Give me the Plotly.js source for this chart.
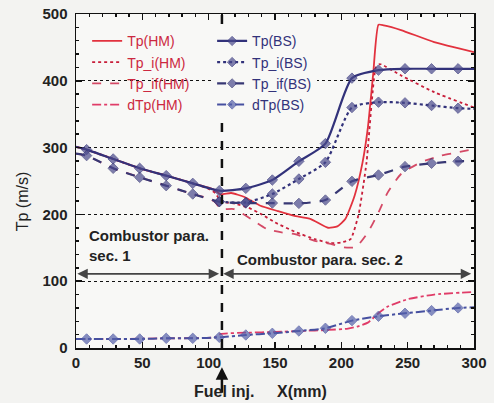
<!DOCTYPE html>
<html>
<head>
<meta charset="utf-8">
<script src="https://cdn.plot.ly/plotly-3.0.1.min.js"></script>
<style>html,body{margin:0;padding:0;background:#f3f3f1;}</style>
</head>
<body>
<div id="chart" style="width:494px;height:403px;"></div>
<script>
// ---- BS series (markers every 20 mm) ----
const xBS    = [0, 8, 28, 48, 68, 88, 108, 128, 148, 168, 188, 208, 228, 248, 268, 288, 300];
const tpBS   = [301, 297, 283, 269, 258, 246.5, 235.5, 239, 251.5, 279.5, 306, 404, 416, 418, 418, 418, 418];
const tpifBS = [291, 288, 269, 255.5, 243, 230.5, 219, 217, 217, 216.5, 221.5, 249.5, 259, 271.5, 276.5, 279.5, 280];
const dtpBS  = [13.5, 13.5, 13.5, 13.5, 14.5, 14.5, 16, 19.5, 22, 25.5, 29.5, 41, 47.5, 52, 56, 60, 61];
const xTpiBS = [108, 128, 148, 168, 188, 208, 228, 248, 268, 288, 300];
const tpiBS  = [219, 218, 230.5, 253, 278, 360, 368, 367, 363, 359, 358];

// ---- HM series ----
const xTpHM  = [0, 8, 28, 48, 68, 88, 100, 105, 109, 117, 127, 139, 152, 164, 177, 190, 197, 203, 210, 216, 220, 224, 228, 232, 245, 270, 300];
const tpHM   = [301, 297, 283, 269, 258, 246.5, 240, 236, 230, 232, 226, 213, 205, 198, 193, 180, 182, 193, 228, 278, 330, 410, 484, 483, 476, 458, 443];
const xTpiHM = [0, 8, 28, 48, 68, 88, 100, 105, 109, 120, 130, 140, 150, 165, 180, 192, 200, 207, 213, 219, 223, 226, 229, 245, 270, 300];
const tpiHM  = [301, 297, 283, 269, 258, 246.5, 238, 232, 220, 216, 210, 200, 188, 174, 163, 157, 158, 163, 200, 278, 370, 420, 425, 408, 383, 360];
const xTpifHM= [0, 8, 28, 48, 68, 88, 100, 105, 109, 119, 132, 144, 155, 165, 180, 192, 202, 211, 220, 228, 235, 245, 260, 275, 288, 300];
const tpifHM = [291, 288, 269, 255.5, 243, 230.5, 224, 218, 208, 208, 193, 178, 173, 170.5, 160.5, 155.7, 150.7, 151, 173, 203, 233, 260.5, 278, 288, 293, 298];
const xDtpHM = [0, 28, 68, 105, 109, 130, 150, 170, 190, 205, 212, 220, 228, 235, 250, 270, 300];
const dtpHM  = [13.5, 13.5, 14.5, 16, 21, 23, 24, 25.5, 27, 29, 32, 38, 52, 62, 73, 80, 84];

const namesHM = ['Tp(HM)', 'Tp_i(HM)', 'Tp_if(HM)', 'dTp(HM)'];
const namesBS = ['Tp(BS)', 'Tp_i(BS)', 'Tp_if(BS)', 'dTp(BS)'];
const xTicks = [0, 50, 100, 150, 200, 250, 300];
const yTicks = [0, 100, 200, 300, 400, 500];
const fuelX = 110;
const arrowY = 111;

const FONT = '"Liberation Sans", Arial, sans-serif';
const NAVY = '#32327a';
const MK = '#4a4a8c';

function msz(xs){ return xs.map(x => (x === 0 || x === 300) ? 0 : 8); }

const traces = [
  {x:xTpHM, y:tpHM, name:namesHM[0], mode:'lines', legend:'legend',
   line:{color:'#e2323e', width:1.8, shape:'spline', smoothing:0.5}},
  {x:xTpiHM, y:tpiHM, name:namesHM[1], mode:'lines', legend:'legend',
   line:{color:'#c81e3a', width:1.8, dash:'dot', shape:'spline', smoothing:0.5}},
  {x:xTpifHM, y:tpifHM, name:namesHM[2], mode:'lines', legend:'legend',
   line:{color:'#d44a66', width:1.8, dash:'dash', shape:'spline', smoothing:0.5}},
  {x:xDtpHM, y:dtpHM, name:namesHM[3], mode:'lines', legend:'legend',
   line:{color:'#e03c68', width:1.8, dash:'dashdot', shape:'spline', smoothing:0.5}},
  {x:xBS, y:tpBS, name:namesBS[0], mode:'lines+markers', legend:'legend2',
   line:{color:NAVY, width:2.2, shape:'spline', smoothing:0.6},
   marker:{symbol:'diamond', size:msz(xBS), color:MK}},
  {x:xTpiBS, y:tpiBS, name:namesBS[1], mode:'lines+markers', legend:'legend2',
   line:{color:NAVY, width:2.2, dash:'dot', shape:'spline', smoothing:0.6},
   marker:{symbol:'diamond', size:msz(xTpiBS), color:MK}},
  {x:xBS, y:tpifBS, name:namesBS[2], mode:'lines+markers', legend:'legend2',
   line:{color:'#383874', width:2.2, dash:'dash', shape:'spline', smoothing:0.6},
   marker:{symbol:'diamond', size:msz(xBS), color:MK}},
  {x:xBS, y:dtpBS, name:namesBS[3], mode:'lines+markers', legend:'legend2',
   line:{color:'#4650a0', width:2, dash:'dashdot', shape:'spline', smoothing:0.6},
   marker:{symbol:'diamond', size:msz(xBS), color:'#5560aa'}}
];

const axisCommon = {
  showline:true, linecolor:'#111', linewidth:1.5, mirror:'ticks',
  ticks:'inside', ticklen:6, tickwidth:1.5, tickcolor:'#111',
  tickfont:{family:FONT, size:15, color:'#222', weight:'bold'},
  zeroline:false
};

const layout = {
  width:494, height:403,
  margin:{l:76, r:20, t:14, b:55},
  paper_bgcolor:'#f3f3f1', plot_bgcolor:'#f8f8f6',
  font:{family:FONT},
  xaxis:Object.assign({}, axisCommon, {
    range:[0,300], tickvals:xTicks, showgrid:false,
    minor:{dtick:10, ticks:'inside', ticklen:3, tickcolor:'#111', showgrid:false}
  }),
  yaxis:Object.assign({}, axisCommon, {
    range:[0,500], tickvals:yTicks, ticklabelstandoff:4,
    showgrid:true, gridcolor:'#111', gridwidth:1, griddash:'dot',
    minor:{dtick:20, ticks:'inside', ticklen:3, tickcolor:'#111', showgrid:false}
  }),
  legend:{x:0.028, y:0.966, xanchor:'left', yanchor:'top', bgcolor:'rgba(0,0,0,0)',
    font:{family:FONT, size:14, color:'#cc2840'}, tracegroupgap:0, itemwidth:30},
  legend2:{x:0.342, y:0.966, xanchor:'left', yanchor:'top', bgcolor:'#f8f8f6',
    font:{family:FONT, size:14, color:NAVY}, tracegroupgap:0, itemwidth:30},
  shapes:[
    {type:'line', xref:'x', yref:'y', x0:fuelX, x1:fuelX, y0:0, y1:500,
     line:{color:'#111', width:2.5, dash:'dash'}}
  ],
  annotations:[
    {x:1, y:arrowY, ax:fuelX-1, ay:arrowY, xref:'x', yref:'y', axref:'x', ayref:'y',
     text:'', showarrow:true, arrowside:'end+start', arrowhead:2, arrowsize:1.3,
     arrowwidth:1.6, arrowcolor:'#444', standoff:0, startstandoff:0},
    {x:fuelX+1, y:arrowY, ax:299, ay:arrowY, xref:'x', yref:'y', axref:'x', ayref:'y',
     text:'', showarrow:true, arrowside:'end+start', arrowhead:2, arrowsize:1.3,
     arrowwidth:1.6, arrowcolor:'#444', standoff:0, startstandoff:0},
    {x:fuelX, y:-0.058, xref:'x', yref:'paper', ax:0, ay:27, text:'',
     showarrow:true, arrowhead:2, arrowsize:1, arrowwidth:2.5, arrowcolor:'#111'},
    {x:8, y:153, xref:'x', yref:'y', xanchor:'left', yanchor:'middle', align:'left',
     text:'Combustor para.<br>sec. 1', showarrow:false,
     font:{family:FONT, size:15, color:'#222', weight:'bold'}},
    {x:120, y:133, xref:'x', yref:'y', xanchor:'left', yanchor:'middle', align:'left',
     text:'Combustor para. sec. 2', showarrow:false,
     font:{family:FONT, size:15, color:'#222', weight:'bold'}},
    {x:111.5, y:-0.13, xref:'x', yref:'paper', xanchor:'center', yanchor:'middle',
     text:'Fuel inj.', showarrow:false,
     font:{family:FONT, size:16, color:'#222', weight:'bold'}},
    {x:170, y:-0.13, xref:'x', yref:'paper', xanchor:'center', yanchor:'middle',
     text:'X(mm)', showarrow:false,
     font:{family:FONT, size:16, color:'#222', weight:'bold'}},
    {x:-0.135, y:220, xref:'paper', yref:'y', xanchor:'center', yanchor:'middle',
     text:'Tp (m/s)', textangle:-90, showarrow:false,
     font:{family:FONT, size:16, color:'#222'}}
  ]
};

Plotly.newPlot('chart', traces, layout, {displayModeBar:false, staticPlot:true});
</script>
</body>
</html>
